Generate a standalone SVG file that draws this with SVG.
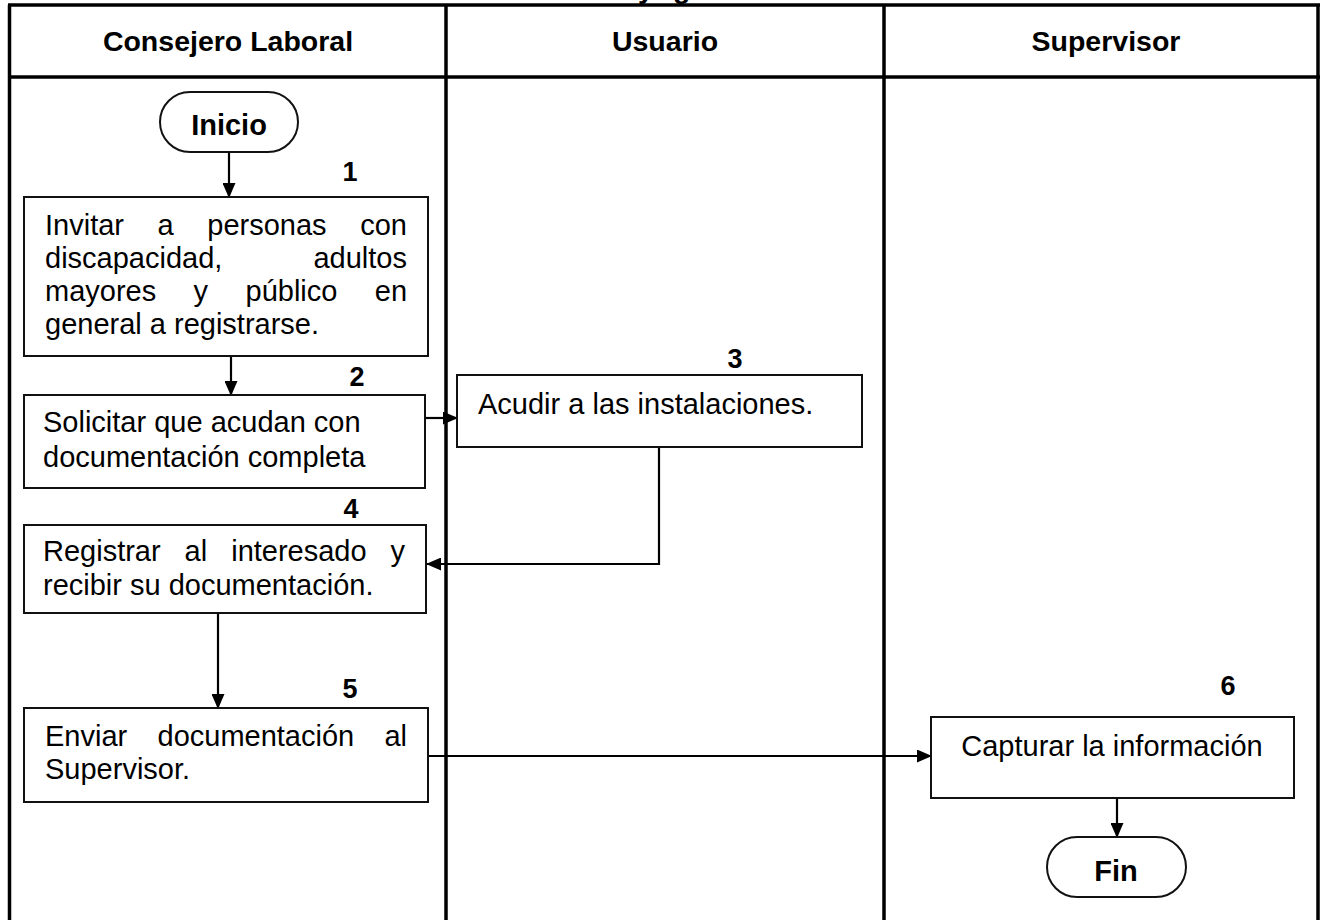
<svg xmlns="http://www.w3.org/2000/svg" width="1322" height="920" viewBox="0 0 1322 920">
<defs>
<style>
.frame{fill:none;stroke:#000;stroke-width:3.5}
.box{fill:#fff;stroke:#111;stroke-width:2}
.hdr{font-family:"Liberation Sans",Arial,sans-serif;font-weight:bold;font-size:28.5px;fill:#000;text-anchor:middle}
.num{font-family:"Liberation Sans",Arial,sans-serif;font-weight:bold;font-size:27px;fill:#000;text-anchor:middle}
.term{font-family:"Liberation Sans",Arial,sans-serif;font-weight:bold;font-size:29px;fill:#000;text-anchor:middle}
.txt{font-family:"Liberation Sans",Arial,sans-serif;font-size:29px;fill:#000}
.conn{fill:none;stroke:#000;stroke-width:2.2}
</style>
<marker id="arr" markerUnits="userSpaceOnUse" markerWidth="15" markerHeight="13" refX="14" refY="6.5" orient="auto">
<path d="M0,0 L15,6.5 L0,13 Z" fill="#000"/>
</marker>
</defs>
<rect width="1322" height="920" fill="#fff"/>

<g id="title">
<text class="hdr" style="text-anchor:start" y="-2"><tspan x="638">y</tspan><tspan x="673">g</tspan></text>
</g>

<g id="table">
<line class="frame" x1="8" y1="5" x2="1320" y2="5"/>
<line class="frame" x1="8" y1="77" x2="1320" y2="77"/>
<line class="frame" x1="9.5" y1="5" x2="9.5" y2="925"/>
<line class="frame" x1="446" y1="5" x2="446" y2="925"/>
<line class="frame" x1="884" y1="5" x2="884" y2="925"/>
<line class="frame" x1="1318" y1="5" x2="1318" y2="925"/>
<text class="hdr" x="228" y="51">Consejero Laboral</text>
<text class="hdr" x="665" y="51">Usuario</text>
<text class="hdr" x="1106" y="51">Supervisor</text>
</g>

<g id="connectors">
<line class="conn" x1="229" y1="152" x2="229" y2="197" marker-end="url(#arr)"/>
<line class="conn" x1="231" y1="356" x2="231" y2="395" marker-end="url(#arr)"/>
<line class="conn" x1="425" y1="418" x2="457" y2="418" marker-end="url(#arr)"/>
<polyline class="conn" points="659,447 659,564 427,564" marker-end="url(#arr)"/>
<line class="conn" x1="218" y1="613" x2="218" y2="708" marker-end="url(#arr)"/>
<line class="conn" x1="429" y1="756" x2="931" y2="756" marker-end="url(#arr)"/>
<line class="conn" x1="1117" y1="798" x2="1117" y2="837" marker-end="url(#arr)"/>
</g>

<g id="inicio">
<rect class="box" x="160" y="92" width="138" height="60" rx="30"/>
<text class="term" x="229" y="135">Inicio</text>
</g>

<g id="step1">
<text class="num" x="350" y="181">1</text>
<rect class="box" x="24" y="197" width="404" height="159"/>
<text class="txt" y="235"><tspan x="45">Invitar</tspan><tspan x="157.6">a</tspan><tspan x="207.3">personas</tspan><tspan x="360.2">con</tspan></text>
<text class="txt" y="268"><tspan x="45">discapacidad,</tspan><tspan x="407" text-anchor="end">adultos</tspan></text>
<text class="txt" y="301"><tspan x="45">mayores</tspan><tspan x="193.6">y</tspan><tspan x="245.5">público</tspan><tspan x="374.8">en</tspan></text>
<text class="txt" x="45" y="334">general a registrarse.</text>
</g>

<g id="step2">
<text class="num" x="357" y="386">2</text>
<rect class="box" x="24" y="395" width="401" height="93"/>
<text class="txt" x="43" y="432">Solicitar que acudan con</text>
<text class="txt" x="43" y="467">documentación completa</text>
</g>

<g id="step3">
<text class="num" x="735" y="368">3</text>
<rect class="box" x="457" y="375" width="405" height="72"/>
<text class="txt" x="478" y="414">Acudir a las instalaciones.</text>
</g>

<g id="step4">
<text class="num" x="351" y="518">4</text>
<rect class="box" x="24" y="525" width="402" height="88"/>
<text class="txt" y="561"><tspan x="43">Registrar</tspan><tspan x="184.6">al</tspan><tspan x="231.2">interesado</tspan><tspan x="390.5">y</tspan></text>
<text class="txt" x="43" y="595">recibir su documentación.</text>
</g>

<g id="step5">
<text class="num" x="350" y="698">5</text>
<rect class="box" x="24" y="708" width="404" height="94"/>
<text class="txt" y="746"><tspan x="45">Enviar</tspan><tspan x="157.5">documentación</tspan><tspan x="384.4">al</tspan></text>
<text class="txt" x="45" y="779">Supervisor.</text>
</g>

<g id="step6">
<text class="num" x="1228" y="695">6</text>
<rect class="box" x="931" y="717" width="363" height="81"/>
<text class="txt" x="1112" y="756" text-anchor="middle">Capturar la información</text>
</g>

<g id="fin">
<rect class="box" x="1047" y="837" width="139" height="60" rx="30"/>
<text class="term" x="1116" y="881">Fin</text>
</g>
</svg>
